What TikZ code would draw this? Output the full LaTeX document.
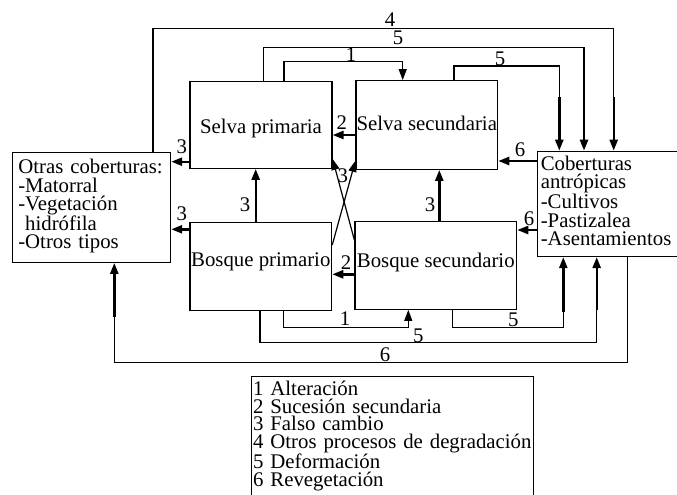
\documentclass[tikz,border=0pt]{standalone}
\usepackage{fontspec}
\setmainfont{Liberation Serif}
\usetikzlibrary{arrows.meta}
\lineskiplimit=-100pt
\newcommand\diagfont{\fontsize{20.8}{18.3}\selectfont}

\tikzset{
  box/.style={draw, line width=1.2pt, inner sep=0pt, font=\diagfont},
  lbl/.style={inner sep=0pt, font=\diagfont},
  conn/.style={line width=1.2pt},
  tip/.style={line width=2.4pt, -{Triangle[length=11pt,width=8pt]}},
  thintip/.style={line width=1.2pt, -{Triangle[length=11pt,width=8pt]}},
}

\begin{document}
\begin{tikzpicture}[x=1pt,y=-1pt]
\useasboundingbox (0,0) rectangle (677,495);

\node[box, minimum width=142pt, minimum height=86.6pt, text height=20.6pt, text depth=4pt] (sp) at (261,125) {Selva primaria};
\node[box, minimum width=141.7pt, minimum height=88.6pt, text height=15.4pt, text depth=4pt] (ss) at (426.8,125) {Selva secundaria};
\node[box, minimum width=141.7pt, minimum height=88pt, text height=18.6pt, text depth=20pt] (bp) at (260.8,266.7) {Bosque primario};
\node[box, minimum width=161.7pt, minimum height=87.6pt, text height=15.6pt, text depth=12pt] (bs) at (435.8,265.5) {Bosque secundario};

\node[box, anchor=north west, text width=146.3pt, inner xsep=6pt, align=left, text height=21.6pt, text depth=88.4pt] (oc) at (11.7,151.7)
  {\mbox{Otras coberturas:}\\-Matorral\\-Vegetación\\\hphantom{-}hidrófila\\-Otros tipos};
\node[box, anchor=north west, text width=160pt, inner xsep=3.5pt, align=left, text height=19.3pt, text depth=85.9pt] (cob) at (536.7,150.7)
  {Coberturas\\antrópicas\\-Cultivos\\-Pastizalea\\-Asentamientos};
\node[box, anchor=north west, text width=278.7pt, inner xsep=1.5pt, align=left, text height=19pt, text depth=110pt, font=\fontsize{20.8}{17.6}\selectfont] (leg) at (251,376)
  {1 Alteración\\2 Sucesión secundaria\\3 Falso cambio\\\mbox{4 Otros procesos de degradación}\\5 Deformación\\6 Revegetación};

% top lines
\draw[conn] (153,0 |- oc.north) |- (613.7,28.7) -- (613.7,97.3);
\draw[tip] (613.7,97.3) -- (613.7,0 |- cob.north);
\node[lbl] (n4) at (390,19.3) {4};
\draw[conn] (263.3,0 |- sp.north) |- (584,47.7) -- (584,97.3);
\draw[tip] (584,97.3) -- (584,0 |- cob.north);
\node[lbl] (n5a) at (398,38) {5};
\draw[thintip] (284,0 |- sp.north) |- (402.7,61.7) -- (402.7,0 |- ss.north);
\node[lbl] (n1a) at (351,55) {1};
\draw[conn] (454,0 |- ss.north) |- (559.3,66) -- (559.3,97.3);
\draw[tip] (559.3,97.3) -- (559.3,0 |- cob.north);
\node[lbl] (n5b) at (500,59) {5};

% between the boxes
\draw[tip] (sp.west |- 0,161.7) -- (oc.east |- 0,161.7);
\node[lbl] (n3a) at (181.7,146.7) {3};
\draw[tip] (bp.west |- 0,229.3) -- (oc.east |- 0,229.3);
\node[lbl] (n3b) at (181.7,213.3) {3};
\draw[tip] (255.7,0 |- bp.north) -- (255.7,0 |- sp.south);
\node[lbl] (n3c) at (245,205) {3};
\draw[tip] (439.3,0 |- bs.north) -- (439.3,0 |- ss.south);
\node[lbl] (n3d) at (430,205) {3};
\draw[tip] (ss.west |- 0,135) -- (sp.east |- 0,135);
\node[lbl] (n2a) at (341.7,122.7) {2};
\draw[tip] (bs.west |- 0,274.3) -- (bp.east |- 0,274.3);
\node[lbl] (n2b) at (346,263) {2};
\draw[thintip] (bp.east |- 0,245) -- ([yshift=9pt]ss.south west);
\draw[thintip] (bs.west |- 0,240) -- ([yshift=10pt]sp.south east);
\node[lbl] (n3e) at (342.7,176) {3};
\draw[tip] (cob.west |- 0,161) -- (ss.east |- 0,161);
\node[lbl] (n6a) at (520,150) {6};
\draw[tip] (cob.west |- 0,230) -- (bs.east |- 0,230);
\node[lbl] (n6b) at (529,218.3) {6};

% bottom lines
\draw[thintip] (283.3,0 |- bp.south) |- (408.3,327.3) -- (408.3,0 |- bs.south);
\node[lbl] (n1b) at (345,318.3) {1};
\draw[conn] (260,0 |- bp.south) |- (596.7,342.7) -- (596.7,310);
\draw[tip] (596.7,310) -- (596.7,0 |- cob.south);
\node[lbl] (n5c) at (418.3,336) {5};
\draw[conn] (452.3,0 |- bs.south) |- (563.3,327.3) -- (563.3,311.7);
\draw[tip] (563.3,311.7) -- (563.3,0 |- cob.south);
\node[lbl] (n5d) at (513.3,320) {5};
\draw[conn] (627.7,0 |- cob.south) |- (114.3,362.7) -- (114.3,316.7);
\draw[tip] (114.3,316.7) -- (114.3,0 |- oc.south);
\node[lbl] (n6c) at (385,355) {6};
\end{tikzpicture}
\end{document}
